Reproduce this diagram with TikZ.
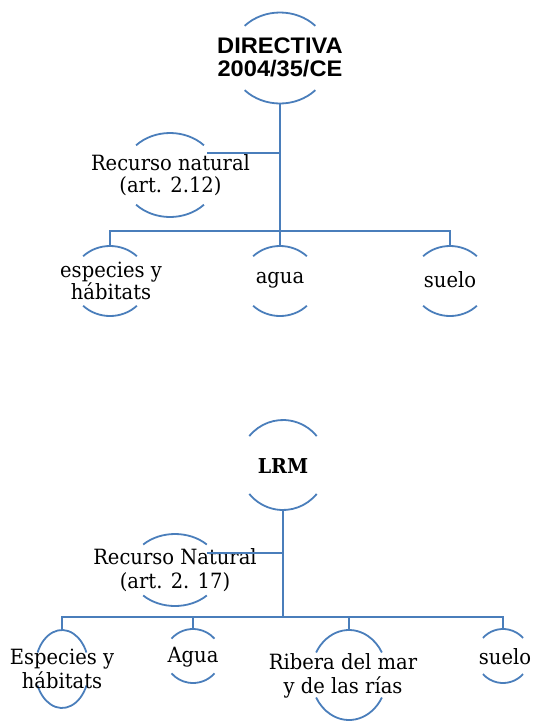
\documentclass[tikz,border=0pt]{standalone}
\usepackage{fontspec}
\setmainfont{DejaVu Serif}
\newfontfamily\serifn{DejaVu Serif}[FakeStretch=0.93]
\newfontfamily\arialfont{Liberation Sans}[FakeStretch=1.05]
\definecolor{lineblue}{HTML}{4A7EBB}
\tikzset{
  conn/.style={draw=lineblue, line width=1.8pt},
  arcline/.style={draw=lineblue, line width=1.8pt},
  lbl/.style={align=center, inner sep=0pt, font=\serifn\fontsize{21}{22.5}\selectfont},
  lbltwo/.style={align=center, inner sep=0pt, font=\serifn\fontsize{21}{24.5}\selectfont},
  headlbl/.style={align=center, inner sep=0pt, font=\arialfont\bfseries\fontsize{22.5}{23}\selectfont},
  lrmlbl/.style={align=center, inner sep=0pt, font=\serifn\bfseries\fontsize{20.5}{23}\selectfont},
}
% #1 centre name, #2 x radius, #3 y radius, #4 half gap angle
\newcommand\ringarcs[4]{%
  \draw[arcline] (#1) ++({-180+#4}:#2 and #3) arc[start angle={-180+#4}, end angle={-#4}, x radius=#2, y radius=#3];
  \draw[arcline] (#1) ++(#4:#2 and #3) arc[start angle=#4, end angle={180-#4}, x radius=#2, y radius=#3];
  \path (#1) ++(0,-#3) coordinate (#1-top);
  \path (#1) ++(0,#3) coordinate (#1-bot);
}
\begin{document}
\begin{tikzpicture}[x=1pt,y=-1pt]
\useasboundingbox (0,0) rectangle (534,721);

% ---------- top diagram ----------
\coordinate (cdir) at (280,58);
\coordinate (crn1) at (170,175);
\coordinate (cesp1) at (110,281);
\coordinate (cagua1) at (280,281);
\coordinate (csuelo1) at (450,281);

\ringarcs{cdir}{50}{45.5}{45}
\ringarcs{crn1}{48}{42}{45}
\ringarcs{cesp1}{38}{35}{45}
\ringarcs{cagua1}{38}{35}{45}
\ringarcs{csuelo1}{38}{35}{45}

\node[headlbl] (dir) at (280,57) {DIRECTIVA\\2004/35/CE};
\node[lbl] (rn1) at (170.5,175) {Recurso natural\\(art. 2.12)};
\node[lbl] (esp1) at (111,281) {especies y\\hábitats};
\node[lbl] (agua1) at (280,280) {agua};
\node[lbl] (suelo1) at (450,280) {suelo};

\coordinate (rn1r) at (207,153);
\coordinate (bar1) at (280,231);
\draw[conn] (cdir-bot) -- (cagua1-top);
\draw[conn] (rn1r) -- (rn1r -| cdir-bot);
\draw[conn] (cesp1-top) |- (bar1) -| (csuelo1-top);

% ---------- bottom diagram ----------
\coordinate (clrm) at (283,465);
\coordinate (crn2) at (175,570);
\coordinate (cesp2) at (62,669);
\coordinate (cagua2) at (193,656);
\coordinate (crib) at (349,675);
\coordinate (csuelo2) at (503,656);

\ringarcs{clrm}{44}{45}{40}
\ringarcs{crn2}{45}{36}{45}
\ringarcs{cesp2}{27}{39}{25}
\ringarcs{cagua2}{28}{27}{40}
\ringarcs{crib}{38}{45}{30}
\ringarcs{csuelo2}{27}{27}{42}

\node[lrmlbl] (lrm) at (283,466) {LRM};
\node[lbltwo] (rn2) at (175,570) {Recurso Natural\\(art. 2. 17)};
\node[lbltwo] (esp2) at (62,669) {Especies y\\hábitats};
\node[lbltwo] (agua2) at (193,657) {Agua};
\node[lbltwo] (rib) at (343,676) {Ribera del mar\\y de las rías};
\node[lbltwo] (suelo2) at (505,657) {suelo};

\coordinate (rn2r) at (207,553);
\coordinate (bar2) at (283,617);
\draw[conn] (clrm-bot) -- (bar2);
\draw[conn] (rn2r) -- (rn2r -| clrm-bot);
\draw[conn] (cesp2-top) |- (bar2) -| (csuelo2-top);
\draw[conn] (cagua2-top) -- (cagua2-top |- bar2);
\draw[conn] (crib-top) -- (crib-top |- bar2);
\end{tikzpicture}
\end{document}
